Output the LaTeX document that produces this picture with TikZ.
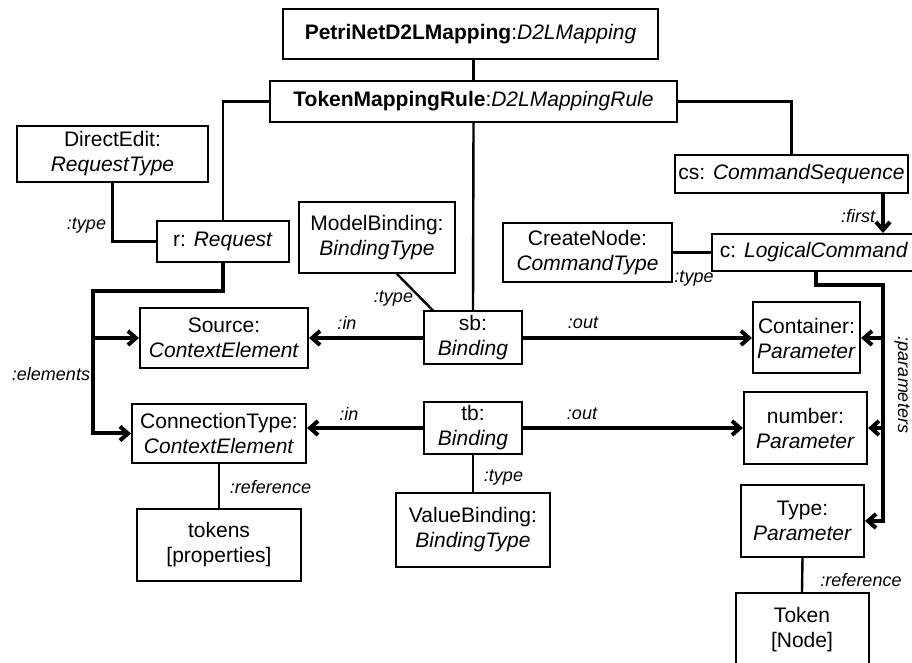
\documentclass[tikz,border=0pt]{standalone}
\usepackage{fontspec}
\setmainfont{Liberation Sans}
\usetikzlibrary{arrows.meta}

\tikzset{
  obj/.style={draw, line width=1pt, align=center, inner sep=0pt, fill=white,
    font=\fontsize{10.5}{12.5}\selectfont},
  role/.style={inner sep=0pt, font=\fontsize{9}{10}\selectfont\itshape},
  link/.style={line width=1.2pt},
  assoc/.style={line width=2pt, -{Straight Barb[length=4pt,width=7pt]}},
}

\begin{document}
\begin{tikzpicture}[x=0.5pt,y=-0.5pt]
\useasboundingbox (0,0) rectangle (912,663);
\fill[white] (0,0) rectangle (912,663);

% mapping and rule
\node[obj, minimum width=187.5pt, minimum height=25pt] (mapping) at (470.5,34)
  {\textbf{PetriNetD2LMapping}:\textit{D2LMapping}};
\node[obj, minimum width=203.5pt, minimum height=20.5pt] (rule) at (473.5,101.5)
  {\textbf{TokenMappingRule}:\textit{D2LMappingRule}};

% request side
\node[obj, minimum width=95.5pt, minimum height=28pt] (edit) at (112.5,154)
  {DirectEdit:\\\textit{RequestType}};
\node[obj, minimum width=66pt, minimum height=20.5pt] (req) at (223,241.5)
  {r: \textit{Request}};
\node[obj, minimum width=84pt, minimum height=30pt] (src) at (224,338)
  {Source:\\\textit{ContextElement}};
\node[obj, minimum width=87pt, minimum height=29.5pt] (conn) at (219,433.5)
  {ConnectionType:\\\textit{ContextElement}};
\node[obj, minimum width=82pt, minimum height=36pt] (props) at (219,545)
  {tokens\\{[}properties{]}};

% bindings
\node[obj, minimum width=78pt, minimum height=35.5pt] (mbind) at (377,237.5)
  {ModelBinding:\\\textit{BindingType}};
\node[obj, minimum width=49pt, minimum height=26.5pt] (sb) at (473,338)
  {sb:\\\textit{Binding}};
\node[obj, minimum width=49pt, minimum height=26pt] (tb) at (473,428)
  {tb:\\\textit{Binding}};
\node[obj, minimum width=77pt, minimum height=37pt] (vbind) at (473,530)
  {ValueBinding:\\\textit{BindingType}};

% command side
\node[obj, minimum width=116.5pt, minimum height=19pt] (cs) at (791.5,174)
  {cs: \textit{CommandSequence}};
\node[obj, minimum width=84.5pt, minimum height=29.5pt] (create) at (587.5,252.5)
  {CreateNode:\\\textit{CommandType}};
\node[obj, minimum width=102pt, minimum height=18.5pt] (cmd) at (814,252.5)
  {c: \textit{LogicalCommand}};
\node[obj, minimum width=53.5pt, minimum height=35.5pt] (cont) at (806.5,338)
  {Container:\\\textit{Parameter}};
\node[obj, minimum width=61.5pt, minimum height=36pt] (num) at (805.5,428)
  {number:\\\textit{Parameter}};
\node[obj, minimum width=61.5pt, minimum height=36pt] (ptype) at (802.5,521)
  {Type:\\\textit{Parameter}};
\node[obj, minimum width=66.5pt, minimum height=37pt] (token) at (802,630)
  {Token\\{[}Node{]}};

\coordinate (elems) at (93,291);
\coordinate (params) at (883,285);

% plain links
\draw[link] (mapping.south -| rule.north) -- (rule.north);
\draw[link] (rule.south) -- (sb.north);
\draw[link] (rule.west) -| (req.north);
\draw[link] (rule.east) -| (cs.north);
\draw[link] (edit.south) |- (req.west);
\draw[link] ([xshift=10pt]mbind.south) -- ([xshift=-20pt]sb.north);
\draw[link] (tb.south) -- (vbind.north);
\draw[link] (conn.south) -- (props.north);
\draw[link] (create.east) -- (cmd.west);
\draw[link] (ptype.south) -- (token.north);

% references with arrows
\draw[assoc] (req.south) |- (elems) |- (conn.west);
\draw[assoc] (elems |- src.west) -- (src.west);
\draw[assoc] (sb.west) -- (src.east);
\draw[assoc] (sb.east) -- (cont.west);
\draw[assoc] (tb.west) -- (tb.west -| conn.east);
\draw[assoc] (tb.east) -- (num.west);
\draw[assoc] (cs.south -| params) -- (cmd.north -| params);
\draw[assoc] ([xshift=1pt]cmd.south) |- (params) |- (ptype.east);
\draw[assoc] (params |- cont.east) -- (cont.east);
\draw[assoc] (params |- num.east) -- (num.east);

% role names
\node[role] (l1) at (86.5,226) {:type};
\node[role] (l2) at (393.5,299) {:type};
\node[role] (l3) at (347,323) {:in};
\node[role] (l4) at (583,323) {:out};
\node[role] (l5) at (51,374) {:elements};
\node[role] (l6) at (349,414) {:in};
\node[role] (l7) at (582,414) {:out};
\node[role] (l8) at (503.5,478) {:type};
\node[role] (l9) at (270.5,487) {:reference};
\node[role] (l10) at (858,216) {:first};
\node[role] (l11) at (694,279) {:type};
\node[role, rotate=-90] (l12) at (902,385) {:parameters};
\node[role] (l13) at (861,580) {:reference};
\end{tikzpicture}
\end{document}
